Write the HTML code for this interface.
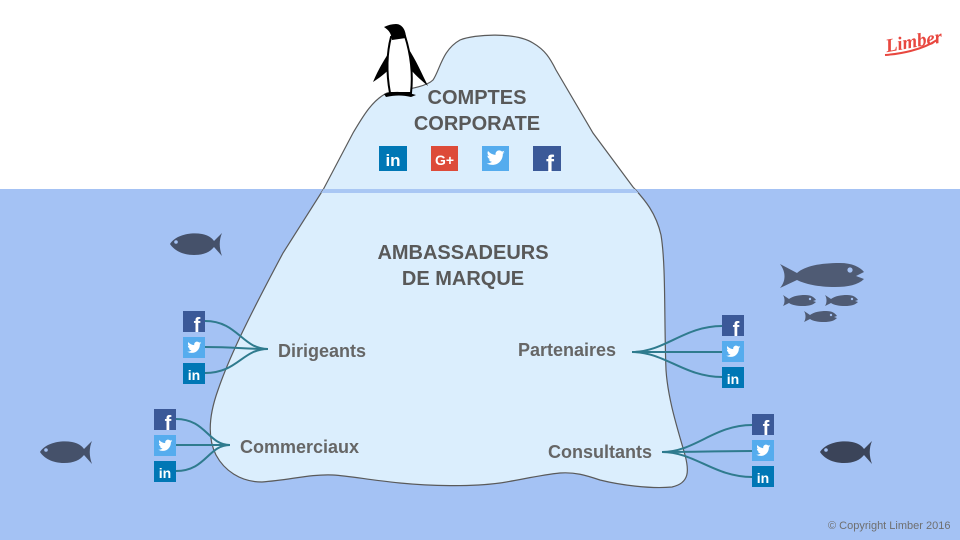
<!DOCTYPE html>
<html><head><meta charset="utf-8"><style>
html,body{margin:0;padding:0;background:#fff;}
svg{display:block;}
.s{font-family:"Liberation Sans",Arial,sans-serif;}
</style></head><body>
<svg width="960" height="540" viewBox="0 0 960 540" xmlns="http://www.w3.org/2000/svg">
<defs>
<clipPath id="ice"><path d="M387,93 C400,90 425,88 433,80 C440,70 442,50 460,40 C475,34 515,32 533,43 C545,50 550,58 556,70 L593,133 L633,187 C645,200 656,213 661,235 C666,265 664,320 666,370 C668,400 678,430 685,455 C689,470 690,483 672,487 C650,489 620,485 600,480 C585,475 575,472 560,473 C540,475 520,480 500,483 C470,487 430,486 400,483 C370,480 350,476 333,475 C310,474 290,480 262,482 C240,482 224,470 216,455 C207,437 209,415 218,390 C230,355 250,315 283,253 L323,190 L353,133 C362,118 372,100 387,93 Z"/></clipPath>
</defs>
<rect x="0" y="0" width="960" height="540" fill="#ffffff"/>
<rect x="0" y="189" width="960" height="351" fill="#a4c2f4"/>

<!-- iceberg -->
<path d="M387,93 C400,90 425,88 433,80 C440,70 442,50 460,40 C475,34 515,32 533,43 C545,50 550,58 556,70 L593,133 L633,187 C645,200 656,213 661,235 C666,265 664,320 666,370 C668,400 678,430 685,455 C689,470 690,483 672,487 C650,489 620,485 600,480 C585,475 575,472 560,473 C540,475 520,480 500,483 C470,487 430,486 400,483 C370,480 350,476 333,475 C310,474 290,480 262,482 C240,482 224,470 216,455 C207,437 209,415 218,390 C230,355 250,315 283,253 L323,190 L353,133 C362,118 372,100 387,93 Z" fill="#dbeefd" stroke="#5a5a5a" stroke-width="1.2"/>
<g clip-path="url(#ice)"><rect x="300" y="189" width="360" height="4" fill="#a9c7f4"/></g>

<!-- penguin -->
<g>
<path d="M373,82 C378,70 385,58 392,48 L393,60 C391,68 388,72 373,82 Z" fill="#000"/>
<path d="M428,86 C422,74 416,60 408,48 L407,62 C410,70 414,74 428,86 Z" fill="#000"/>
<path d="M391,37 C387,52 386,72 390,93 L411,93 C413,75 411,55 405,36 Z" fill="#fff" stroke="#000" stroke-width="2"/>
<path d="M384,27 C388,25 392,24 396,24 C402,24 406,30 406,38 L392,40 C391,34 390,31 384,27 Z" fill="#000"/>
<path d="M384,94 C392,91 404,91 416,95 L411,97 C403,95 395,95 386,97 Z" fill="#000"/>
</g>

<!-- Corporate text -->
<text class="s" x="477" y="104" font-size="20" font-weight="bold" fill="#595959" text-anchor="middle">COMPTES</text>
<text class="s" x="477" y="130" font-size="20" font-weight="bold" fill="#595959" text-anchor="middle">CORPORATE</text>

<!-- corporate icons -->
<rect x="379" y="146" width="28" height="25" fill="#0077b5"/>
<text class="s" x="393" y="166" font-size="17" font-weight="bold" fill="#fff" text-anchor="middle">in</text>
<rect x="431" y="146" width="27" height="25" fill="#dd4b39"/>
<text class="s" x="444.5" y="165" font-size="14" font-weight="bold" fill="#fff" text-anchor="middle">G+</text>
<rect x="482" y="146" width="27" height="25" fill="#55acee"/>
<path transform="translate(485,147) scale(0.9)" fill="#fff" d="M22,5.8c-.7.3-1.5.5-2.4.6.8-.5 1.5-1.3 1.8-2.3-.8.5-1.7.8-2.6 1-.8-.8-1.9-1.3-3-1.3-2.3 0-4.1 1.8-4.1 4.1 0 .3 0 .6.1.9C8.4 8.6 5.4 7 3.4 4.5c-.4.6-.6 1.3-.6 2.1 0 1.4.7 2.7 1.8 3.4-.7 0-1.3-.2-1.9-.5v.1c0 2 1.4 3.6 3.3 4-.3.1-.7.1-1.1.1-.3 0-.5 0-.8-.1.5 1.6 2 2.8 3.8 2.8-1.4 1.1-3.2 1.8-5.1 1.8-.3 0-.7 0-1-.1 1.8 1.2 4 1.8 6.3 1.8 7.5 0 11.7-6.2 11.7-11.7v-.5c.8-.6 1.5-1.3 2-2.1z"/>
<rect x="533" y="146" width="28" height="25" fill="#3b5998"/>
<text class="s" x="550" y="172" font-size="24" font-weight="bold" fill="#fff" text-anchor="middle">f</text>

<!-- Ambassadeurs -->
<text class="s" x="463" y="259" font-size="20" font-weight="bold" fill="#595959" text-anchor="middle">AMBASSADEURS</text>
<text class="s" x="463" y="285" font-size="20" font-weight="bold" fill="#595959" text-anchor="middle">DE MARQUE</text>

<!-- connectors -->
<g fill="none" stroke="#2f7b8e" stroke-width="2">
<path d="M205,321 C238,321 242,349 268,349"/>
<path d="M205,347 C235,347 245,349 268,349"/>
<path d="M205,373 C238,373 242,349 268,349"/>
<path d="M176,419 C206,419 208,445 230,445"/>
<path d="M176,445 C200,445 210,445 230,445"/>
<path d="M176,471 C206,471 208,445 230,445"/>
<path d="M632,352 C665,352 684,326 722,326"/>
<path d="M632,352 C665,352 690,352 722,352"/>
<path d="M632,352 C665,352 684,377 722,377"/>
<path d="M662,452 C695,452 714,425 752,425"/>
<path d="M662,452 C695,452 720,451 752,451"/>
<path d="M662,452 C695,452 714,477 752,477"/>
</g>

<!-- labels -->
<text class="s" x="278" y="357" font-size="18" font-weight="bold" fill="#666">Dirigeants</text>
<text class="s" x="240" y="453" font-size="18" font-weight="bold" fill="#666">Commerciaux</text>
<text class="s" x="518" y="356" font-size="18" font-weight="bold" fill="#666">Partenaires</text>
<text class="s" x="548" y="458" font-size="18" font-weight="bold" fill="#666">Consultants</text>

<!-- Dirigeants icons -->
<g>
<rect x="183" y="311" width="22" height="21" fill="#3b5998"/>
<text class="s" x="197" y="332" font-size="20" font-weight="bold" fill="#fff" text-anchor="middle">f</text>
<rect x="183" y="337" width="22" height="21" fill="#55acee"/>
<path transform="translate(186,339) scale(0.7)" fill="#fff" d="M22,5.8c-.7.3-1.5.5-2.4.6.8-.5 1.5-1.3 1.8-2.3-.8.5-1.7.8-2.6 1-.8-.8-1.9-1.3-3-1.3-2.3 0-4.1 1.8-4.1 4.1 0 .3 0 .6.1.9C8.4 8.6 5.4 7 3.4 4.5c-.4.6-.6 1.3-.6 2.1 0 1.4.7 2.7 1.8 3.4-.7 0-1.3-.2-1.9-.5v.1c0 2 1.4 3.6 3.3 4-.3.1-.7.1-1.1.1-.3 0-.5 0-.8-.1.5 1.6 2 2.8 3.8 2.8-1.4 1.1-3.2 1.8-5.1 1.8-.3 0-.7 0-1-.1 1.8 1.2 4 1.8 6.3 1.8 7.5 0 11.7-6.2 11.7-11.7v-.5c.8-.6 1.5-1.3 2-2.1z"/>
<rect x="183" y="363" width="22" height="21" fill="#0077b5"/>
<text class="s" x="194" y="380" font-size="14" font-weight="bold" fill="#fff" text-anchor="middle">in</text>
</g>
<!-- Commerciaux icons -->
<g>
<rect x="154" y="409" width="22" height="21" fill="#3b5998"/>
<text class="s" x="168" y="430" font-size="20" font-weight="bold" fill="#fff" text-anchor="middle">f</text>
<rect x="154" y="435" width="22" height="21" fill="#55acee"/>
<path transform="translate(157,437) scale(0.7)" fill="#fff" d="M22,5.8c-.7.3-1.5.5-2.4.6.8-.5 1.5-1.3 1.8-2.3-.8.5-1.7.8-2.6 1-.8-.8-1.9-1.3-3-1.3-2.3 0-4.1 1.8-4.1 4.1 0 .3 0 .6.1.9C8.4 8.6 5.4 7 3.4 4.5c-.4.6-.6 1.3-.6 2.1 0 1.4.7 2.7 1.8 3.4-.7 0-1.3-.2-1.9-.5v.1c0 2 1.4 3.6 3.3 4-.3.1-.7.1-1.1.1-.3 0-.5 0-.8-.1.5 1.6 2 2.8 3.8 2.8-1.4 1.1-3.2 1.8-5.1 1.8-.3 0-.7 0-1-.1 1.8 1.2 4 1.8 6.3 1.8 7.5 0 11.7-6.2 11.7-11.7v-.5c.8-.6 1.5-1.3 2-2.1z"/>
<rect x="154" y="461" width="22" height="21" fill="#0077b5"/>
<text class="s" x="165" y="478" font-size="14" font-weight="bold" fill="#fff" text-anchor="middle">in</text>
</g>
<!-- Partenaires icons -->
<g>
<rect x="722" y="315" width="22" height="21" fill="#3b5998"/>
<text class="s" x="736" y="336" font-size="20" font-weight="bold" fill="#fff" text-anchor="middle">f</text>
<rect x="722" y="341" width="22" height="21" fill="#55acee"/>
<path transform="translate(725,343) scale(0.7)" fill="#fff" d="M22,5.8c-.7.3-1.5.5-2.4.6.8-.5 1.5-1.3 1.8-2.3-.8.5-1.7.8-2.6 1-.8-.8-1.9-1.3-3-1.3-2.3 0-4.1 1.8-4.1 4.1 0 .3 0 .6.1.9C8.4 8.6 5.4 7 3.4 4.5c-.4.6-.6 1.3-.6 2.1 0 1.4.7 2.7 1.8 3.4-.7 0-1.3-.2-1.9-.5v.1c0 2 1.4 3.6 3.3 4-.3.1-.7.1-1.1.1-.3 0-.5 0-.8-.1.5 1.6 2 2.8 3.8 2.8-1.4 1.1-3.2 1.8-5.1 1.8-.3 0-.7 0-1-.1 1.8 1.2 4 1.8 6.3 1.8 7.5 0 11.7-6.2 11.7-11.7v-.5c.8-.6 1.5-1.3 2-2.1z"/>
<rect x="722" y="367" width="22" height="21" fill="#0077b5"/>
<text class="s" x="733" y="384" font-size="14" font-weight="bold" fill="#fff" text-anchor="middle">in</text>
</g>
<!-- Consultants icons -->
<g>
<rect x="752" y="414" width="22" height="21" fill="#3b5998"/>
<text class="s" x="766" y="435" font-size="20" font-weight="bold" fill="#fff" text-anchor="middle">f</text>
<rect x="752" y="440" width="22" height="21" fill="#55acee"/>
<path transform="translate(755,442) scale(0.7)" fill="#fff" d="M22,5.8c-.7.3-1.5.5-2.4.6.8-.5 1.5-1.3 1.8-2.3-.8.5-1.7.8-2.6 1-.8-.8-1.9-1.3-3-1.3-2.3 0-4.1 1.8-4.1 4.1 0 .3 0 .6.1.9C8.4 8.6 5.4 7 3.4 4.5c-.4.6-.6 1.3-.6 2.1 0 1.4.7 2.7 1.8 3.4-.7 0-1.3-.2-1.9-.5v.1c0 2 1.4 3.6 3.3 4-.3.1-.7.1-1.1.1-.3 0-.5 0-.8-.1.5 1.6 2 2.8 3.8 2.8-1.4 1.1-3.2 1.8-5.1 1.8-.3 0-.7 0-1-.1 1.8 1.2 4 1.8 6.3 1.8 7.5 0 11.7-6.2 11.7-11.7v-.5c.8-.6 1.5-1.3 2-2.1z"/>
<rect x="752" y="466" width="22" height="21" fill="#0077b5"/>
<text class="s" x="763" y="483" font-size="14" font-weight="bold" fill="#fff" text-anchor="middle">in</text>
</g>

<!-- fish (left-facing) -->
<g fill="#45516a">
<g transform="translate(170,231)"><path d="M0,13 C6,4 20,1 32,3 C38,4 42,7 44,10 L52,2 C49,9 49,17 52,25 L44,16 C40,21 34,24 24,24 C12,24 4,19 0,13 Z"/><circle cx="6" cy="11" r="1.8" fill="#a4c2f4"/></g>
<g transform="translate(40,439)"><path d="M0,13 C6,4 20,1 32,3 C38,4 42,7 44,10 L52,2 C49,9 49,17 52,25 L44,16 C40,21 34,24 24,24 C12,24 4,19 0,13 Z"/><circle cx="6" cy="11" r="1.8" fill="#a4c2f4"/></g>
<g transform="translate(820,439)"><path d="M0,13 C6,4 20,1 32,3 C38,4 42,7 44,10 L52,2 C49,9 49,17 52,25 L44,16 C40,21 34,24 24,24 C12,24 4,19 0,13 Z" fill="#3b4459"/><circle cx="6" cy="11" r="1.8" fill="#a4c2f4"/></g>
</g>
<!-- school of fish (right-facing) -->
<g fill="#4f5b74">
<path d="M780,264 L797,273 C805,266 820,263 840,263 C852,263 860,267 864,272 L856,276 L864,279 C858,285 848,287 835,287 C818,287 805,284 797,280 L780,288 C786,281 786,272 780,264 Z"/>
<circle cx="850" cy="270" r="2.6" fill="#a4c2f4"/>
<g transform="translate(783,295)"><path d="M0,0 L6,4 C10,1 16,0 22,0 C28,0 31,2 33,5 L30,6 L33,7 C30,10 26,11 20,11 C14,11 9,10 6,8 L0,11 C2,8 2,3 0,0 Z"/><circle cx="27" cy="4" r="1.2" fill="#a4c2f4"/></g>
<g transform="translate(825,295)"><path d="M0,0 L6,4 C10,1 16,0 22,0 C28,0 31,2 33,5 L30,6 L33,7 C30,10 26,11 20,11 C14,11 9,10 6,8 L0,11 C2,8 2,3 0,0 Z"/><circle cx="27" cy="4" r="1.2" fill="#a4c2f4"/></g>
<g transform="translate(804,311)"><path d="M0,0 L6,4 C10,1 16,0 22,0 C28,0 31,2 33,5 L30,6 L33,7 C30,10 26,11 20,11 C14,11 9,10 6,8 L0,11 C2,8 2,3 0,0 Z"/><circle cx="27" cy="4" r="1.2" fill="#a4c2f4"/></g>
</g>

<!-- Limber logo -->
<text x="885" y="48" style="font-family:'Liberation Serif',serif;font-style:italic;font-weight:bold;font-size:19px;" fill="#e8473f" transform="rotate(-10 910 40)">Limber</text>
<path d="M885,55 C900,54 922,50 937,40" fill="none" stroke="#e8473f" stroke-width="2"/>

<!-- copyright -->
<text class="s" x="828" y="529" font-size="11" fill="#6f6f6f">© Copyright Limber 2016</text>
</svg>
</body></html>
